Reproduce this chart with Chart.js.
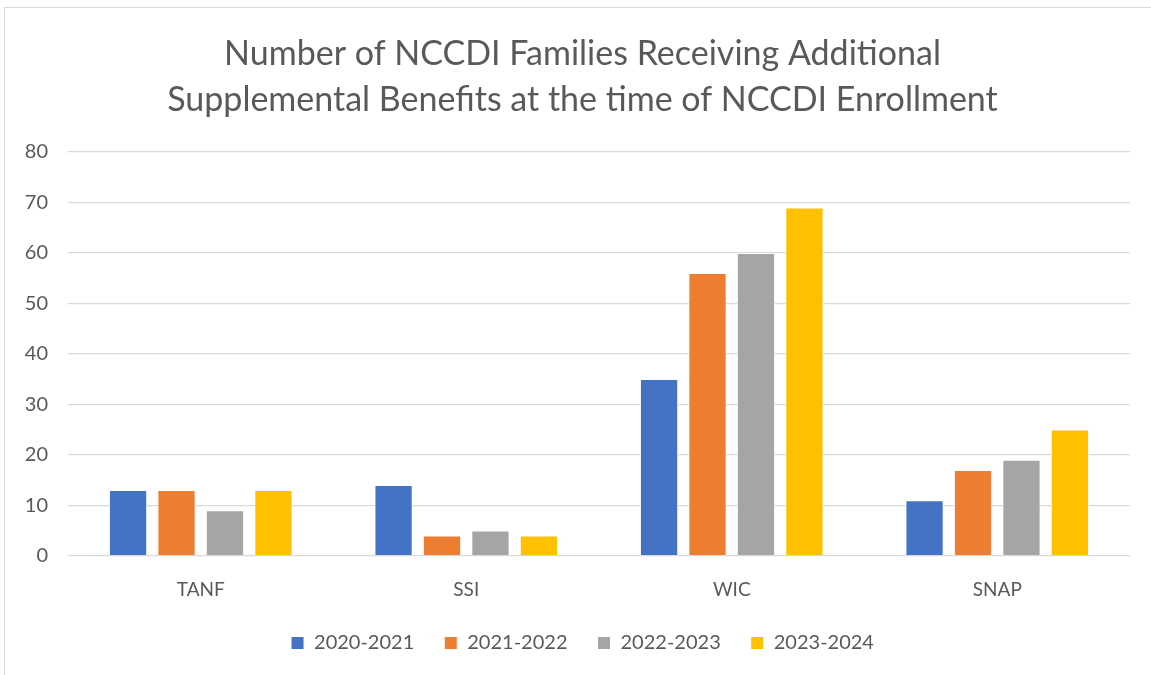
<!DOCTYPE html>
<html>
<head>
<meta charset="utf-8">
<script src="https://cdn.jsdelivr.net/npm/chart.js@4"></script>
<style>
  html, body { margin: 0; padding: 0; background: #fff; overflow: hidden; }
  #frame {
    position: absolute; left: 4px; top: 7px; width: 1160px; height: 700px;
    border: 1px solid #d9d9d9; box-sizing: border-box;
  }
  #chart { position: absolute; left: 0; top: 0; }
</style>
</head>
<body>
<div id="frame"></div>
<canvas id="chart" width="1151" height="675"></canvas>
<script>
const categories = ["TANF", "SSI", "WIC", "SNAP"];
const seriesNames = ["2020-2021", "2021-2022", "2022-2023", "2023-2024"];
const values2020 = [13, 14, 35, 11];
const values2021 = [13, 4, 56, 17];
const values2022 = [9, 5, 60, 19];
const values2023 = [13, 4, 69, 25];
const seriesColors = ["#4472C4", "#ED7D31", "#A5A5A5", "#FFC000"];
const yTicks = [0, 10, 20, 30, 40, 50, 60, 70, 80];

const FONT = "Lato, 'DejaVu Sans', sans-serif";
const TEXT = "#595959";

const allValues = [values2020, values2021, values2022, values2023];

// title and legend sit a little right of the canvas centre in the original
const nudgeCentre = {
  id: "nudgeCentre",
  afterLayout(chart) {
    const shift = 15;
    [chart.titleBlock, chart.legend].forEach((box) => {
      if (box) {
        box.left += shift;
        box.right += shift;
      }
    });
  },
};

const ctx = document.getElementById("chart").getContext("2d");
new Chart(ctx, {
  type: "bar",
  data: {
    labels: categories,
    datasets: seriesNames.map((name, i) => ({
      label: name,
      data: allValues[i],
      backgroundColor: seriesColors[i],
      borderColor: "#ffffff",
      borderWidth: 1,
      categoryPercentage: 0.73,
      barPercentage: 0.79,
    })),
  },
  options: {
    responsive: false,
    animation: false,
    layout: { padding: { left: 5, right: 21, top: 0, bottom: 12 } },
    scales: {
      x: {
        grid: { display: false },
        border: { display: false },
        ticks: { color: TEXT, font: { family: FONT, size: 19 }, padding: 15 },
        // pull the legend up closer to the category labels
        afterFit: (scale) => {
          scale.height -= 13.5;
        },
      },
      y: {
        min: 0,
        max: 80,
        afterBuildTicks: (scale) => {
          scale.ticks = yTicks.map((v) => ({ value: v }));
        },
        afterFit: (scale) => {
          scale.width = 63;
        },
        grid: { color: "#d9d9d9", lineWidth: 1.3, drawTicks: false },
        border: { display: false },
        ticks: { color: TEXT, font: { family: FONT, size: 20 }, padding: 20 },
      },
    },
    plugins: {
      title: {
        display: true,
        text: [
          "Number of NCCDI Families Receiving Additional",
          "Supplemental Benefits at the time of NCCDI Enrollment",
        ],
        color: TEXT,
        font: { family: FONT, size: 34, weight: "normal", lineHeight: 1.353 },
        padding: { top: 31, bottom: 29 },
      },
      legend: {
        position: "bottom",
        labels: {
          color: TEXT,
          font: { family: FONT, size: 20 },
          boxWidth: 13,
          boxHeight: 13,
          padding: 30,
        },
      },
      tooltip: { enabled: false },
    },
  },
  plugins: [nudgeCentre],
});
</script>
</body>
</html>
